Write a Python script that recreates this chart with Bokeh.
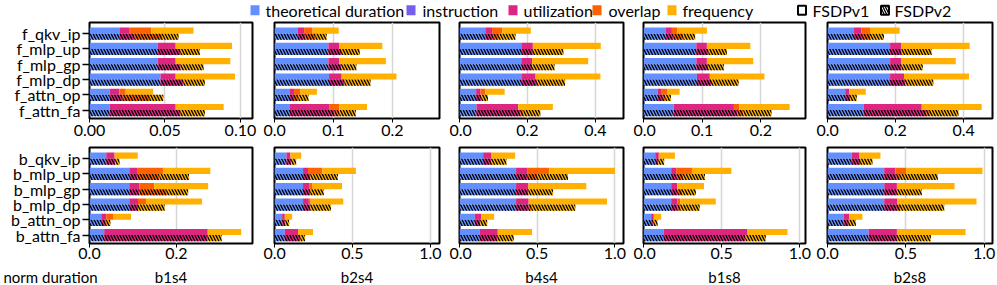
import numpy as np
from bokeh.plotting import figure
from bokeh.layouts import column, row
from bokeh.models import ColumnDataSource, Range1d, FixedTicker, NumeralTickFormatter
from bokeh.embed import file_html
from bokeh.resources import INLINE
from bokeh.core.properties import value

FONT = "Lato"

configs = ["b1s4", "b2s4", "b4s4", "b1s8", "b2s8"]
fwd_ops = ["f_qkv_ip", "f_mlp_up", "f_mlp_gp", "f_mlp_dp", "f_attn_op", "f_attn_fa"]
bwd_ops = ["b_qkv_ip", "b_mlp_up", "b_mlp_gp", "b_mlp_dp", "b_attn_op", "b_attn_fa"]
components = ["theoretical duration", "instruction", "utilization", "overlap", "frequency"]
colors = ["#648FFF", "#785EF0", "#DC267F", "#FE6100", "#FFB000"]
versions = ["FSDPv1", "FSDPv2"]
x_title = "norm duration"

# each row (one op): [theoretical duration, instruction, utilization, overlap, frequency]
fwd_b1s4_v1 = [[0.0198, 0, 0.0064, 0.0147, 0.0280], [0.0453, 0, 0.0118, 0, 0.0373],
               [0.0453, 0, 0.0118, 0, 0.0362], [0.0471, 0, 0.0100, 0, 0.0393],
               [0.0133, 0, 0.0065, 0.0042, 0.0182], [0.0133, 0, 0.0438, 0, 0.0318]]
fwd_b1s4_v2 = [[0.0198, 0, 0.0102, 0.0180, 0.0110], [0.0453, 0, 0.0151, 0, 0.0127],
               [0.0453, 0, 0.0151, 0, 0.0152], [0.0471, 0, 0.0151, 0, 0.0142],
               [0.0133, 0, 0.0087, 0.0180, 0.0089], [0.0133, 0, 0.0471, 0, 0.0160]]
bwd_b1s4_v1 = [[0.0385, 0, 0.0192, 0, 0.0533], [0.0915, 0, 0.0195, 0.058, 0.109],
               [0.0915, 0, 0.0235, 0.034, 0.124], [0.0915, 0, 0.020, 0.0185, 0.129],
               [0.027, 0, 0.0115, 0.017, 0.040], [0.0338, 0, 0.2382, 0, 0.077]]
bwd_b1s4_v2 = [[0.0385, 0, 0.0205, 0, 0.010], [0.0915, 0, 0.0195, 0.050, 0.068],
               [0.0915, 0, 0.0235, 0.063, 0.049], [0.0915, 0, 0.020, 0, 0.0615],
               [0.027, 0, 0.009, 0.004, 0.008], [0.0338, 0, 0.2382, 0, 0.032]]

fwd_b2s4_v1 = [[0.0389, 0, 0.0114, 0.0143, 0.0444], [0.0914, 0, 0.0186, 0, 0.073],
               [0.0914, 0, 0.0186, 0, 0.079], [0.0926, 0, 0.0214, 0, 0.093],
               [0.0263, 0, 0.0067, 0.0104, 0.0286], [0.0263, 0, 0.0674, 0.0163, 0.047]]
fwd_b2s4_v2 = [[0.0389, 0, 0.0141, 0.017, 0.0186], [0.0914, 0, 0.0216, 0, 0.0316],
               [0.0914, 0, 0.0216, 0, 0.026], [0.0926, 0, 0.0264, 0, 0.044],
               [0.0263, 0, 0.0067, 0.008, 0.0167], [0.0263, 0, 0.0757, 0.008, 0.028]]
bwd_b2s4_v1 = [[0.077, 0, 0.025, 0, 0.069], [0.183, 0, 0.032, 0.092, 0.215],
               [0.183, 0, 0.039, 0.019, 0.192], [0.183, 0, 0.037, 0.012, 0.209],
               [0.049, 0, 0.017, 0, 0.047], [0.066, 0, 0.085, 0, 0.096]]
bwd_b2s4_v2 = [[0.077, 0, 0.030, 0, 0.032], [0.183, 0, 0.047, 0, 0.177],
               [0.183, 0, 0.047, 0, 0.086], [0.183, 0, 0.047, 0, 0.132],
               [0.049, 0, 0.021, 0, 0.024], [0.066, 0, 0.100, 0, 0.030]]

fwd_b4s4_v1 = [[0.076, 0, 0.020, 0.030, 0.084], [0.182, 0, 0.034, 0, 0.200],
               [0.182, 0, 0.032, 0, 0.165], [0.182, 0, 0.042, 0, 0.191],
               [0.049, 0, 0.0126, 0.0144, 0.057], [0.050, 0, 0.123, 0, 0.102]]
fwd_b4s4_v2 = [[0.076, 0, 0.025, 0.015, 0.049], [0.182, 0, 0.034, 0, 0.090],
               [0.182, 0, 0.032, 0, 0.066], [0.182, 0, 0.046, 0, 0.083],
               [0.049, 0, 0.015, 0, 0.020], [0.050, 0, 0.129, 0.010, 0.049]]
bwd_b4s4_v1 = [[0.152, 0, 0.054, 0, 0.152], [0.364, 0, 0.071, 0.143, 0.422],
               [0.364, 0, 0.079, 0, 0.373], [0.364, 0, 0.081, 0, 0.504],
               [0.0985, 0, 0.0405, 0, 0.084], [0.131, 0, 0.115, 0, 0.221]]
bwd_b4s4_v2 = [[0.152, 0, 0.051, 0, 0.099], [0.364, 0, 0.075, 0.060, 0.199],
               [0.364, 0, 0.079, 0, 0.159], [0.364, 0, 0.081, 0.020, 0.280],
               [0.0985, 0, 0.0355, 0, 0.044], [0.131, 0, 0.115, 0, 0.103]]

fwd_b1s8_v1 = [[0.0382, 0, 0.0102, 0.0096, 0.050], [0.090, 0, 0.018, 0, 0.074],
               [0.090, 0, 0.018, 0, 0.079], [0.091, 0, 0.022, 0, 0.093],
               [0.0245, 0, 0.0065, 0.009, 0.0215], [0.0513, 0, 0.1027, 0.009, 0.086]]
fwd_b1s8_v2 = [[0.0382, 0, 0.0128, 0.017, 0.020], [0.090, 0, 0.021, 0, 0.031],
               [0.090, 0, 0.020, 0, 0.027], [0.091, 0, 0.024, 0, 0.047],
               [0.0245, 0, 0.0085, 0.004, 0.0097], [0.0513, 0, 0.1087, 0.010, 0.048]]
bwd_b1s8_v1 = [[0.075, 0, 0.023, 0, 0.103], [0.177, 0, 0.032, 0.101, 0.252],
               [0.177, 0, 0.039, 0, 0.171], [0.177, 0, 0.041, 0.017, 0.227],
               [0.049, 0, 0.017, 0, 0.047], [0.128, 0, 0.534, 0, 0.259]]
bwd_b1s8_v2 = [[0.075, 0, 0.020, 0, 0.037], [0.177, 0, 0.036, 0.040, 0.140],
               [0.177, 0, 0.039, 0.030, 0.089], [0.177, 0, 0.041, 0.020, 0.121],
               [0.049, 0, 0.015, 0, 0.026], [0.128, 0, 0.524, 0, 0.130]]

fwd_b2s8_v1 = [[0.078, 0, 0.021, 0.026, 0.087], [0.184, 0, 0.032, 0, 0.202],
               [0.184, 0, 0.032, 0, 0.161], [0.184, 0, 0.041, 0, 0.191],
               [0.052, 0, 0.0116, 0, 0.0489], [0.106, 0, 0.171, 0, 0.176]]
fwd_b2s8_v2 = [[0.078, 0, 0.026, 0.021, 0.041], [0.184, 0, 0.034, 0, 0.088],
               [0.184, 0, 0.034, 0, 0.062], [0.184, 0, 0.044, 0, 0.083],
               [0.052, 0, 0.0145, 0, 0.0195], [0.106, 0, 0.184, 0.011, 0.084]]
bwd_b2s8_v1 = [[0.155, 0, 0.049, 0, 0.134], [0.362, 0, 0.072, 0.068, 0.487],
               [0.362, 0, 0.081, 0, 0.368], [0.362, 0, 0.083, 0, 0.506],
               [0.102, 0, 0.038, 0, 0.083], [0.262, 0, 0.181, 0, 0.438]]
bwd_b2s8_v2 = [[0.155, 0, 0.053, 0, 0.079], [0.362, 0, 0.080, 0.020, 0.242],
               [0.362, 0, 0.081, 0, 0.159], [0.362, 0, 0.081, 0.020, 0.282],
               [0.102, 0, 0.034, 0, 0.045], [0.262, 0, 0.181, 0, 0.217]]

fwd_xmax = [0.108, 0.28, 0.483, 0.276, 0.485]
bwd_xmax = [0.375, 1.058, 1.055, 1.036, 1.053]
fwd_ticks = [[0, 0.05, 0.10], [0, 0.1, 0.2], [0, 0.2, 0.4], [0, 0.1, 0.2], [0, 0.2, 0.4]]
bwd_ticks = [[0, 0.2], [0, 0.5, 1.0], [0, 0.5, 1.0], [0, 0.5, 1.0], [0, 0.5, 1.0]]
fwd_fmt = ["0.00", "0.0", "0.0", "0.0", "0.0"]
bwd_fmt = ["0.0", "0.0", "0.0", "0.0", "0.0"]

fwd_data = [(fwd_b1s4_v1, fwd_b1s4_v2), (fwd_b2s4_v1, fwd_b2s4_v2), (fwd_b4s4_v1, fwd_b4s4_v2),
            (fwd_b1s8_v1, fwd_b1s8_v2), (fwd_b2s8_v1, fwd_b2s8_v2)]
bwd_data = [(bwd_b1s4_v1, bwd_b1s4_v2), (bwd_b2s4_v1, bwd_b2s4_v2), (bwd_b4s4_v1, bwd_b4s4_v2),
            (bwd_b1s8_v1, bwd_b1s8_v2), (bwd_b2s8_v1, bwd_b2s8_v2)]

# layout (pixels)
FRAME_W = [163, 165, 164, 162, 165]
LEFT_B = [89, 11, 10, 10, 11]
RIGHT_B = [11, 10, 10, 11, 4]
FRAME_H = 96
Y_LO, Y_HI = -5.55, 0.73
TICK_FS = "16px"
LABEL_FS = "16px"
CAP_FS = "15px"
TOTAL_W = sum(LEFT_B) + sum(FRAME_W) + sum(RIGHT_B)


def make_panel(ops, pair, xmax, ticks, fmt, col, bottom):
    top_b = 3 if bottom else 2
    bot_b = 24 if bottom else 26
    fw = FRAME_W[col]
    p = figure(width=LEFT_B[col] + fw + RIGHT_B[col], height=top_b + FRAME_H + bot_b,
               x_range=Range1d(0, xmax), y_range=Range1d(Y_LO, Y_HI),
               toolbar_location=None, output_backend="svg",
               min_border_left=LEFT_B[col], min_border_right=RIGHT_B[col],
               min_border_top=top_b, min_border_bottom=bot_b)
    n = len(ops)
    for vi, (rows, off) in enumerate(zip(pair, (0.2, -0.2))):
        arr = np.array(rows, dtype=float)
        cum = np.cumsum(arr, axis=1)
        ys = [-k + off for k in range(n)]
        for ci in range(len(components)):
            src = ColumnDataSource(dict(y=ys, left=cum[:, ci] - arr[:, ci], right=cum[:, ci]))
            kw = {}
            if vi == 1:
                kw = dict(hatch_pattern="left_diagonal_line", hatch_color="black",
                          hatch_weight=1.3, hatch_scale=6)
            p.hbar(y="y", left="left", right="right", height=0.4, source=src,
                   fill_color=colors[ci], line_color=None, **kw)
    p.outline_line_color = "black"
    p.outline_line_width = 2
    p.ygrid.visible = False
    p.xgrid.ticker = FixedTicker(ticks=ticks)
    p.xgrid.grid_line_color = "#d6d6d6"
    p.xgrid.grid_line_width = 1.5
    xa = p.xaxis[0]
    xa.ticker = FixedTicker(ticks=ticks)
    xa.formatter = NumeralTickFormatter(format=fmt)
    xa.axis_line_color = None
    xa.major_tick_in = 0
    xa.major_tick_out = 4
    xa.minor_tick_in = 0
    xa.minor_tick_out = 0
    xa.major_label_standoff = 0 if bottom else 2
    xa.major_label_text_font = FONT
    xa.major_label_text_font_size = TICK_FS
    xa.major_label_text_color = "black"
    if col == 0:
        ya = p.yaxis[0]
        ya.ticker = FixedTicker(ticks=[-k for k in range(n)])
        ya.major_label_overrides = {-k: ops[k] for k in range(n)}
        ya.axis_line_color = None
        ya.major_tick_in = 0
        ya.major_tick_out = 7
        ya.major_tick_line_width = 1.5
        ya.minor_tick_in = 0
        ya.minor_tick_out = 0
        ya.major_label_standoff = 2
        ya.major_label_text_font = FONT
        ya.major_label_text_font_size = LABEL_FS
        ya.major_label_text_color = "black"
    else:
        p.yaxis.visible = False
    return p


tops = [make_panel(fwd_ops, fwd_data[i], fwd_xmax[i], fwd_ticks[i], fwd_fmt[i], i, False)
        for i in range(5)]
bots = [make_panel(bwd_ops, bwd_data[i], bwd_xmax[i], bwd_ticks[i], bwd_fmt[i], i, True)
        for i in range(5)]


def strip(h):
    s = figure(width=TOTAL_W, height=h, x_range=Range1d(0, TOTAL_W), y_range=Range1d(h, 0),
               toolbar_location=None, output_backend="svg",
               min_border_left=0, min_border_right=0, min_border_top=0, min_border_bottom=0)
    s.axis.visible = False
    s.grid.visible = False
    s.outline_line_color = None
    return s


# legend strip (data units == pixels, y downwards)
leg = strip(20)
LEG_Y = 9.8
sq_x = [254.5, 410.5, 512.5, 596.5, 671.5]
tx_x = [265, 422, 523, 608, 682]
leg.rect(x=sq_x, y=[LEG_Y] * 5, width=9, height=10, fill_color=colors, line_color=None)
leg.text(x=tx_x, y=[LEG_Y] * 5, text=components, text_font=value(FONT), text_font_size=value(LABEL_FS),
         text_baseline="middle", text_align="left", text_color="black")
leg.rect(x=[801.5], y=[LEG_Y], width=8, height=9, fill_color="white", line_color="black", line_width=2)
leg.rect(x=[884.5], y=[LEG_Y], width=8, height=9, fill_color="white", line_color="black", line_width=2,
         hatch_pattern="left_diagonal_line", hatch_color="black", hatch_weight=1.3, hatch_scale=5)
leg.text(x=[812, 894], y=[LEG_Y, LEG_Y], text=versions, text_font=value(FONT),
         text_font_size=value(LABEL_FS), text_baseline="middle", text_align="left", text_color="black")

# caption strip under the bottom row: "norm duration" + config names centred under each frame
CAP_H = 18
CAP_Y = 9
cap = strip(CAP_H)
centers = []
acc = 0
for i in range(5):
    centers.append(acc + LEFT_B[i] + FRAME_W[i] / 2)
    acc += LEFT_B[i] + FRAME_W[i] + RIGHT_B[i]
cap.text(x=centers, y=[CAP_Y] * 5, text=configs, text_font=value(FONT), text_font_size=value(CAP_FS),
         text_baseline="middle", text_align="center", text_color="black")
cap.text(x=[3], y=[CAP_Y], text=[x_title], text_font=value(FONT), text_font_size=value(CAP_FS),
         text_baseline="middle", text_align="left", text_color="black")

layout = column(leg, row(*tops), row(*bots), cap)
open("out.html", "w").write(file_html(layout, INLINE))
